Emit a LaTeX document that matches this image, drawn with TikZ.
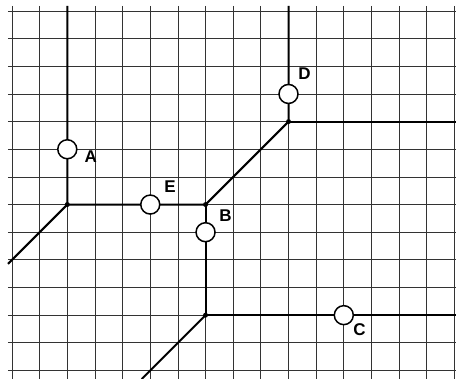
\documentclass[tikz,border=0pt]{standalone}
\usepackage{fontspec}
\setmainfont{Liberation Sans}
\tikzset{gridline/.style={black!80,line width=0.8pt},
  road/.style={black,line width=2pt},
  site/.style={circle,draw,fill=white,line width=1.5pt,minimum size=19pt,inner sep=0pt},
  lbl/.style={font=\bfseries\fontsize{17}{17}\selectfont,inner sep=0pt},
  dot/.style={circle,fill,inner sep=0pt,minimum size=5pt}}
\begin{document}
\begin{tikzpicture}[x=27.65pt,y=-27.65pt]
\useasboundingbox (-0.434,-0.398) rectangle (16.058,13.309);
% grid
\foreach \i in {0,...,16} \draw[gridline] (\i,-0.181)--(\i,13.309);
\foreach \j in {0,...,13} \draw[gridline] (-0.145,\j)--(16.058,\j);
% junctions and ends
\coordinate (jw) at (2,7); \coordinate (jm) at (7,7); \coordinate (ju) at (10,4); \coordinate (jl) at (7,11);
\coordinate (tw) at (2,-0.181); \coordinate (tu) at (10,-0.181); \coordinate (ew) at (-0.145,9.145);
\coordinate (ru) at (16.058,4); \coordinate (rl) at (16.058,11); \coordinate (bl) at (4.691,13.309);
\draw[road] (tw)--(jw)--(jm)--(ju)--(tu); \draw[road] (ew)--(jw); \draw[road] (ju)--(ru);
\draw[road] (jm)--(jl)--(rl); \draw[road] (jl)--(bl);
\foreach \p in {jw,jm,ju,jl} \node[dot] at (\p) {};
% sites
\node[site] (A) at (2,5) {}; \node[site] (E) at (5,7) {}; \node[site] (B) at (7,8) {};
\node[site] (D) at (10,3) {}; \node[site] (C) at (12,11) {};
\node[lbl] (lA) at ([shift={(23.5pt,-7pt)}]A) {A}; \node[lbl] (lE) at ([shift={(19.75pt,17.5pt)}]E) {E};
\node[lbl] (lB) at ([shift={(20pt,17pt)}]B) {B}; \node[lbl] (lD) at ([shift={(16pt,20pt)}]D) {D};
\node[lbl] (lC) at ([shift={(15.7pt,-14pt)}]C) {C};
\end{tikzpicture}
\end{document}
